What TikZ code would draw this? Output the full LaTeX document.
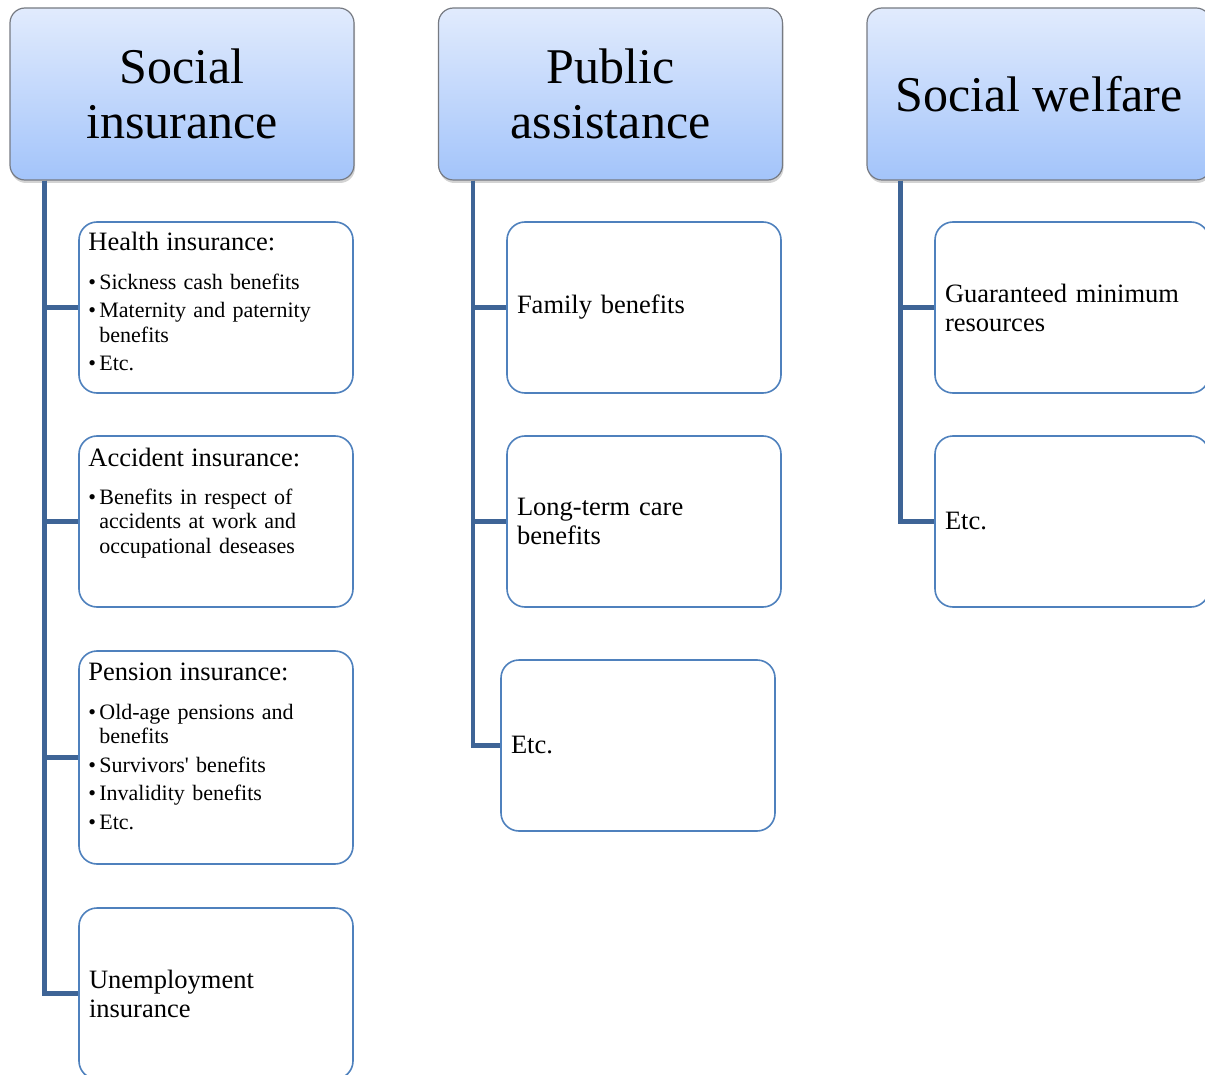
\documentclass[tikz,border=0pt]{standalone}
\usepackage{fontspec}
\setmainfont{Liberation Serif}
\usetikzlibrary{shadows}
\definecolor{headtop}{RGB}{225,235,253}
\definecolor{headbot}{RGB}{163,196,250}
\definecolor{headline}{RGB}{118,122,130}
\definecolor{boxline}{RGB}{79,129,189}
\definecolor{connline}{RGB}{62,100,150}
\newcommand{\ttl}{\fontsize{26.5}{29}\selectfont}
\newcommand{\lst}{\fontsize{22}{24.5}\selectfont}
\newcommand{\bul}[1]{\par\hangindent=11pt\hangafter=1\noindent\makebox[11pt][l]{\textbullet}#1}

\begin{document}
\begin{tikzpicture}[x=1pt,y=-1pt,
    head/.style={draw=headline, line width=1.2pt, rounded corners=15pt, top color=headtop, bottom color=headbot,
      minimum width=344pt, minimum height=172pt, inner sep=0pt, align=center,
      font=\fontsize{50}{55}\selectfont,
      drop shadow={shadow xshift=1pt, shadow yshift=-3pt, opacity=.35}},
    child/.style={draw=boxline, line width=1.6pt, rounded corners=18pt, fill=white,
      text width=254pt, inner xsep=10pt, inner ysep=0pt, minimum height=171pt, align=left, font=\ttl},
    txt/.style={anchor=north west, inner sep=0pt, text width=254pt, align=left, font=\lst},
    conn/.style={draw=connline, line width=4.5pt, line join=miter}]
  \useasboundingbox (0,0) rectangle (1205,1075);

  \node[head] (SI) at (182,94) {Social\\insurance};
  \node[head] (PA) at (610.5,94) {Public\\assistance};
  \node[head] (SW) at (1039,94) {Social welfare};

  \node[child] (SI1) at (216,307.5) {};
  \node[child] (SI2) at (216,521.5) {};
  \node[child, minimum height=213pt] (SI3) at (216,757.5) {};
  \node[child] (SI4) at (216,993.5) {Unemployment\\insurance};

  \node[child] (PA1) at (644,307.5) {Family benefits};
  \node[child] (PA2) at (644,521.5) {Long-term care\\benefits};
  \node[child] (PA3) at (638,745.5) {Etc.};

  \node[child] (SW1) at (1072,307.5) {Guaranteed minimum\\resources};
  \node[child] (SW2) at (1072,521.5) {Etc.};

  \node[txt] (SI1t) at ([shift={(10,11)}]SI1.north west)
    {\setlength{\parskip}{4pt}{\ttl Health insurance:\par}\vspace{10pt}
     \bul{Sickness cash benefits}\bul{Maternity and paternity\newline benefits}\bul{Etc.}\par};
  \node[txt] (SI2t) at ([shift={(10,13)}]SI2.north west)
    {\setlength{\parskip}{4pt}{\ttl Accident insurance:\par}\vspace{9pt}
     \bul{Benefits in respect of\newline accidents at work and\newline occupational deseases}\par};
  \node[txt] (SI3t) at ([shift={(10,13)}]SI3.north west)
    {\setlength{\parskip}{4pt}{\ttl Pension insurance:\par}\vspace{10pt}
     \bul{Old-age pensions and\newline benefits}\bul{Survivors\textquotesingle{} benefits}\bul{Invalidity benefits}\bul{Etc.}\par};

  \foreach \c in {SI1,SI2,SI3,SI4} \draw[conn] ([xshift=35pt]SI.south west) |- (\c.west);
  \foreach \c in {PA1,PA2,PA3} \draw[conn] ([xshift=35pt]PA.south west) |- (\c.west);
  \foreach \c in {SW1,SW2} \draw[conn] ([xshift=34pt]SW.south west) |- (\c.west);
\end{tikzpicture}
\end{document}
